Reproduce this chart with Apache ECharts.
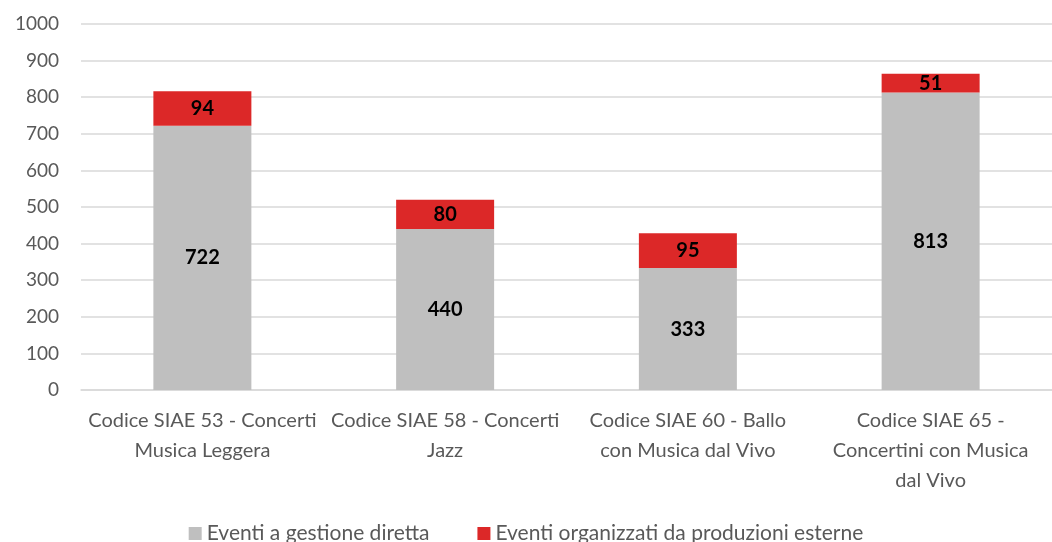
<!DOCTYPE html>
<html>
<head>
<meta charset="utf-8">
<script src="https://cdn.jsdelivr.net/npm/echarts@6/dist/echarts.min.js"></script>
<style>
  html, body { margin: 0; padding: 0; background: #fff; }
  #chart { width: 1052px; height: 542px; }
</style>
</head>
<body>
<div id="chart"></div>
<script>
// categorie (a capo come nell'originale)
var categories = [
  'Codice SIAE 53 - Concerti\nMusica Leggera',
  'Codice SIAE 58 - Concerti\nJazz',
  'Codice SIAE 60 - Ballo\ncon Musica dal Vivo',
  'Codice SIAE 65 -\nConcertini con Musica\ndal Vivo'
];
var seriesNames = ['Eventi a gestione diretta', 'Eventi organizzati da produzioni esterne'];
var gestioneDiretta = [722, 440, 333, 813];
var produzioniEsterne = [94, 80, 95, 51];

var font = 'Lato, "Open Sans", sans-serif';
var chart = echarts.init(document.getElementById('chart'));

var labelStyle = {
  show: true,
  position: 'inside',
  color: '#000',
  fontWeight: 'bold',
  fontSize: 20,
  fontFamily: font
};

chart.setOption({
  animation: false,
  textStyle: { fontFamily: font },
  grid: { left: 81, top: 24, width: 980, height: 366, containLabel: false },
  legend: {
    top: 518,
    left: 'center',
    itemWidth: 13,
    itemHeight: 13,
    itemGap: 48,
    icon: 'rect',
    textStyle: { color: '#595959', fontSize: 21, fontFamily: font },
    data: seriesNames
  },
  xAxis: {
    type: 'category',
    data: categories,
    axisLine: { lineStyle: { color: '#d9d9d9', width: 1.5 } },
    axisTick: { show: false },
    axisLabel: {
      color: '#595959',
      fontSize: 20,
      lineHeight: 30,
      margin: 16,
      interval: 0,
      fontFamily: font
    }
  },
  yAxis: {
    type: 'value',
    min: 0,
    max: 1000,
    interval: 100,
    axisLine: { show: false },
    axisTick: { show: false },
    splitLine: { lineStyle: { color: '#d9d9d9', width: 1.5 } },
    axisLabel: {
      color: '#595959',
      fontSize: 19,
      margin: 22,
      fontFamily: font,
      formatter: function (v) { return String(v); }
    }
  },
  series: [
    {
      name: seriesNames[0],
      type: 'bar',
      stack: 'tot',
      barWidth: 98,
      data: gestioneDiretta,
      itemStyle: { color: '#bfbfbf' },
      label: labelStyle
    },
    {
      name: seriesNames[1],
      type: 'bar',
      stack: 'tot',
      barWidth: 98,
      data: produzioniEsterne,
      itemStyle: { color: '#dc2828' },
      label: labelStyle
    }
  ]
});
</script>
</body>
</html>
